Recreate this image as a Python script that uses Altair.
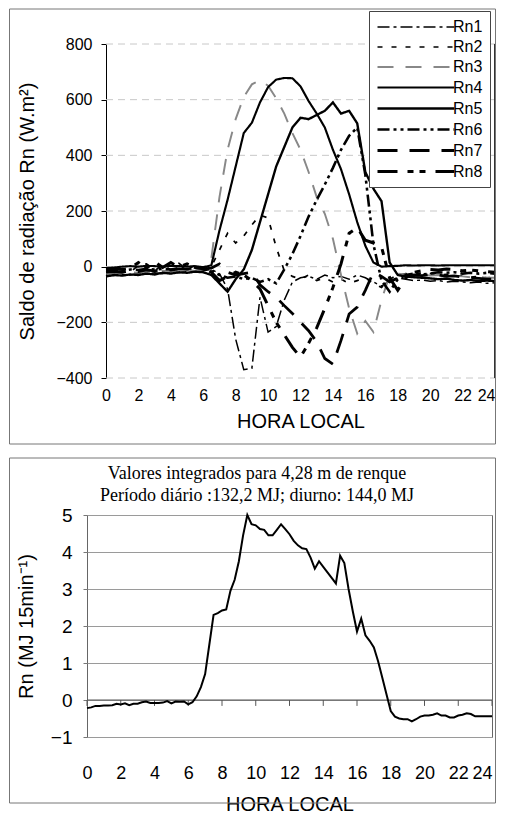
import altair as alt
import pandas as pd

# ---------------- data: upper panel (W/m2, every 30 min) ----------------
hours = [i * 0.5 for i in range(49)]
series_names = ["Rn1", "Rn2", "Rn3", "Rn4", "Rn5", "Rn6", "Rn7", "Rn8"]

rn1 = [-30, -32, -28, -30, -25, -27, -22, -25, -20, -22, -18, -20, -15,
       -10, -25, -80, -260, -370, -365, -110, -235, -215, -120, -55, -40,
       -35, -45, -30, -40, -35, -45, -30, -40, -55, -70, -50, -40,
       -45, -50, -48, -52, -50, -55, -52, -55, -58, -55, -60, -58]
rn2 = [-20, -22, -18, -20, 5, 10, -15, 8, -12, 12, -10, 5, -8,
       0, 60, 120, 85, 110, 150, 185, 175, 70, -15, -35, -45,
       -30, -50, -40, -55, -45, -60, -50, -40, -60, -75, -45, -30,
       -25, -28, -22, -25, -30, -28, -35, -32, -38, -35, -40, -38]
rn3 = [-25, -25, -22, -20, -22, -18, -20, -15, -18, -15, -12, -15, -10,
       30, 250, 420, 530, 610, 655, 670, 650, 605, 550, 480, 420,
       340, 250, 190, 100, -30, -150, -240, -195, -235, -120, -30, -25,
       -28, -30, -30, -32, -30, -35, -33, -35, -38, -36, -40, -40]
rn4 = [-5, -3, 0, 2, 0, 3, 2, 0, 3, 2, 0, 2, -2,
       5, 130, 240, 360, 480, 517, 590, 645, 672, 678, 677, 648,
       595, 550, 500, 420, 350, 260, 160, 75, 15, 0, 2, 3,
       5, 4, 5, 5, 4, 5, 5, 5, 5, 5, 5, 5]
rn5 = [-35, -30, -32, -28, -30, -25, -28, -22, -25, -20, -22, -18, -20,
       -30, -60, -90, -45, -10, 60, 160, 260, 360, 430, 500, 535,
       530, 545, 560, 590, 550, 560, 515, 340, 280, 235, 15, -30,
       -35, -38, -40, -42, -45, -43, -48, -50, -48, -52, -50, -52]
rn6 = [-15, -12, -15, -10, -12, -8, -10, -8, -10, -5, -8, -5, -8,
       -15, -30, -40, -35, -45, -40, -55, -45, -60, -10, 45, 110,
       180, 240, 295, 355, 420, 470, 500, 330, 80, -50, -90, -45,
       -30, -25, -28, -25, -20, -22, -20, -25, -22, -25, -22, -25]
rn7 = [-20, -18, -20, -15, -18, -12, -15, -10, -12, -8, -10, -6, -8,
       -5, 10, -20, -30, -25, -20, -65, -90, -110, -140, -168, -200,
       -230, -270, -330, -350, -265, -170, -145, -85, -20, -35, -55, -40,
       -35, -30, -32, -28, -30, -35, -33, -38, -40, -42, -45, -45]
rn8 = [-10, -8, -10, -6, 15, -5, 18, -3, 15, -2, 10, -3, -5,
       -20, -50, -35, -20, -30, -50, -80, -140, -200, -245, -290, -325,
       -275, -220, -150, -75, 10, 120, 140, 95, 85, 70, -40, -85,
       -40, -20, -15, -10, -12, -8, -10, -15, -12, -15, -18, -20]

top_y_ticks = [-400, -200, 0, 200, 400, 600, 800]
x_ticks = list(range(0, 25, 2))

# ---------------- data: lower panel (MJ per 15 min) ----------------
hours_q = [i * 0.25 for i in range(97)]
rn_int = [-0.22, -0.20, -0.16, -0.16,
          -0.15, -0.15, -0.14, -0.10,
          -0.12, -0.09, -0.14, -0.10,
          -0.10, -0.06, -0.04, -0.08,
          -0.08, -0.08, -0.07, -0.03,
          -0.09, -0.04, -0.05, -0.04,
          -0.12, -0.06, 0.10, 0.35,
          0.70, 1.50, 2.30, 2.35,
          2.42, 2.45, 2.95, 3.25,
          3.75, 4.45, 5.00, 4.75,
          4.72, 4.62, 4.60, 4.45,
          4.45, 4.60, 4.75, 4.62,
          4.48, 4.30, 4.18, 4.10,
          4.08, 3.85, 3.55, 3.75,
          3.60, 3.45, 3.30, 3.15,
          3.90, 3.70, 3.00, 2.40,
          1.85, 2.20, 1.75, 1.60,
          1.42, 1.05, 0.60, 0.15,
          -0.30, -0.45, -0.50, -0.52,
          -0.52, -0.58, -0.52, -0.45,
          -0.42, -0.42, -0.40, -0.36,
          -0.42, -0.42, -0.47, -0.47,
          -0.42, -0.40, -0.36, -0.38,
          -0.44, -0.44, -0.44, -0.44,
          -0.44]
bottom_y_ticks = [-1, 0, 1, 2, 3, 4, 5]
zero_tick_end = -0.16
bottom_title = "Valores integrados para 4,28 m de renque\nPeríodo  diário :132,2 MJ; diurno: 144,0 MJ"

# ---------------- tables ----------------
rows = []
for name, vals in zip(series_names, [rn1, rn2, rn3, rn4, rn5, rn6, rn7, rn8]):
    for h, v in zip(hours, vals):
        rows.append({"hora": h, "serie": name, "rn": v})
df_top = pd.DataFrame(rows)
df_grid = pd.DataFrame({"rn": top_y_ticks})
df_bot = pd.DataFrame({"hora": hours_q, "rn": rn_int})
df_zt = pd.DataFrame({"hora": x_ticks, "rn": [0] * len(x_ticks), "rn_end": [zero_tick_end] * len(x_ticks)})
df_zero = pd.DataFrame({"rn": [0]})
one = pd.DataFrame({"k": [0]})
df_btitle = pd.DataFrame({"t": [bottom_title]})

FONT = "Liberation Sans"
last_label_align = alt.ExprRef("datum.value == 24 ? 'right' : 'center'")

# ---------------- upper panel ----------------
W1, H1 = 408, 334
X0 = 19
x_top = alt.X("hora:Q", scale=alt.Scale(domain=[0, 24], range=[X0, W1], nice=False),
              axis=alt.Axis(values=x_ticks, ticks=False, domain=False, grid=False,
                            labelFontSize=16, labelPadding=9, labelFlush=False,
                            labelAlign=last_label_align,
                            title="HORA LOCAL", titleFontSize=20, titlePadding=8))
y_axis_top = alt.Axis(values=top_y_ticks, offset=-X0, grid=False, domainColor="black",
                      tickColor="black", tickSize=5, labelFontSize=16, labelPadding=9,
                      labelOverlap=False,
                      title="Saldo de radiação Rn (W.m²)", titleFontSize=20, titlePadding=18)
y_top = alt.Y("rn:Q", scale=alt.Scale(domain=[-400, 800], nice=False), axis=y_axis_top)

dashes = [[12, 4, 3, 4], [5, 9], [16, 12], [1, 0], [1, 0], [12, 4, 3, 4, 3, 4], [20, 12], [20, 10, 6, 6, 6, 10]]
widths = [1.5, 3, 1, 3.2, 1.6, 1.5, 3, 3]
colors = ["black", "black", "#888888", "black", "black", "black", "black", "black"]
leg = alt.Legend(orient="none", legendX=282, legendY=-33, title=None,
                 symbolType="M-1,0H8.6", symbolSize=256, labelFontSize=16, labelFont=FONT,
                 labelColor="black", labelOffset=58,
                 strokeColor="#444", fillColor="white", padding=7, rowPadding=3)

frame_top = alt.Chart(one).mark_rect(fill="transparent", stroke="#777", strokeWidth=1).encode(
    x=alt.value(-77.5), x2=alt.value(W1 + 0.5), y=alt.value(-35), y2=alt.value(400))
grid_top = alt.Chart(df_grid).mark_rule(color="#c8c8c8", strokeDash=[7, 5], strokeWidth=1).encode(
    y=y_top, x=alt.value(X0), x2=alt.value(W1))
lines_top = alt.Chart(df_top).mark_line().encode(
    x=x_top, y=y_top,
    color=alt.Color("serie:N", scale=alt.Scale(domain=series_names, range=colors), legend=leg),
    strokeDash=alt.StrokeDash("serie:N", scale=alt.Scale(domain=series_names, range=dashes), legend=leg),
    strokeWidth=alt.StrokeWidth("serie:N", scale=alt.Scale(domain=series_names, range=widths), legend=leg),
)
right_top = alt.Chart(one).mark_rule(color="#333", strokeWidth=1).encode(
    x=alt.value(W1 - 0.5), y=alt.value(0), y2=alt.value(H1))

top = alt.layer(frame_top, grid_top, lines_top, right_top).properties(width=W1, height=H1)

# ---------------- lower panel ----------------
W2, H2 = 405, 222
x_bot = alt.X("hora:Q", scale=alt.Scale(domain=[0, 24], nice=False),
              axis=alt.Axis(values=x_ticks, ticks=False, domain=False, grid=False,
                            labelFontSize=18, labelPadding=27, labelFlush=False,
                            labelAlign=last_label_align,
                            title="HORA LOCAL", titleFontSize=20, titlePadding=12))
y_axis_bot = alt.Axis(values=bottom_y_ticks, grid=True, gridColor="#9a9a9a", domain=False,
                      tickSize=4, tickColor="#777", labelFontSize=19, labelPadding=11,
                      labelOverlap=False,
                      title="Rn (MJ 15min⁻¹)", titleFontSize=20, titlePadding=14)
y_bot = alt.Y("rn:Q", scale=alt.Scale(domain=[-1, 5], nice=False), axis=y_axis_bot)

frame_bot = alt.Chart(one).mark_rect(fill="transparent", stroke="#777", strokeWidth=1).encode(
    x=alt.value(-77.5), x2=alt.value(W1 + 0.5), y=alt.value(-57), y2=alt.value(288))
zero_line = alt.Chart(df_zero).mark_rule(color="#555", strokeWidth=1).encode(y=y_bot)
zero_ticks = alt.Chart(df_zt).mark_rule(color="#555", strokeWidth=1).encode(
    x=x_bot, y=y_bot, y2="rn_end:Q")
line_bot = alt.Chart(df_bot).mark_line(color="black", strokeWidth=2).encode(x=x_bot, y=y_bot)
title_bot = alt.Chart(df_btitle).mark_text(font="Liberation Serif", fontSize=18, align="center",
                                           baseline="top", lineBreak="\n", lineHeight=22,
                                           color="black").encode(
    text="t:N", x=alt.value(170), y=alt.value(-50))

bottom = alt.layer(frame_bot, zero_line, zero_ticks, line_bot, title_bot).properties(
    width=W2, height=H2, view=alt.ViewBackground(stroke="#666", strokeWidth=1))

chart = alt.vconcat(top, bottom, spacing=12).properties(
    padding={"left": 0, "top": 0, "right": 0, "bottom": 0}
).configure_view(stroke=None).configure_axis(
    labelFont=FONT, titleFont=FONT, labelColor="black", titleColor="black",
    titleFontWeight="normal"
)

chart.save("out.html", embed_options={"renderer": "svg", "actions": False})
